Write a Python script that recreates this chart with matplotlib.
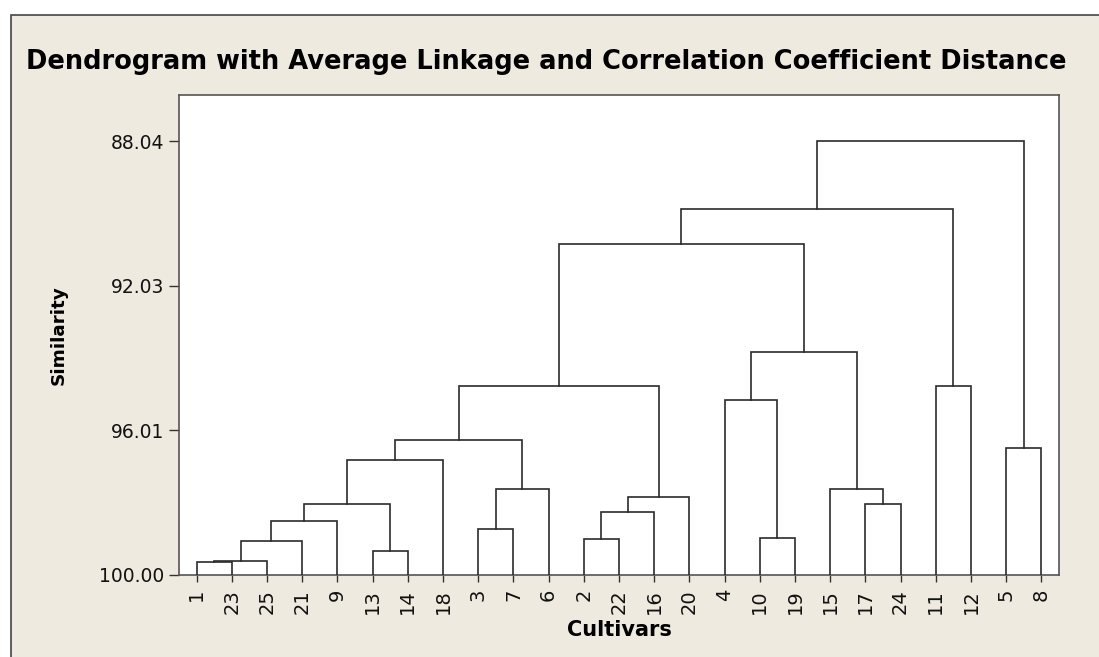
import matplotlib
matplotlib.use("Agg")
import matplotlib.pyplot as plt
from matplotlib.patches import Rectangle

# ---------------------------------------------------------
# DATA: leaf order and merge heights (similarity, %)
# ---------------------------------------------------------

leaf_order = [1, 23, 25, 21, 9, 13, 14, 18, 3, 7, 6, 2, 22, 16, 20,
              4, 10, 19, 15, 17, 24, 11, 12, 5, 8]

# (name, left child, right child, similarity level)
merge_names = ["A", "B", "C", "D", "E", "F", "G", "H", "I", "J", "K", "L",
               "M", "N", "O", "P", "Q", "R", "S", "T", "U", "V", "W", "X"]
merge_left = [1, "A", "B", "C", 13, "D", "F", 3, "H", "G", 2, "K",
              "L", "J", 10, 4, 17, 15, "P", "N", 11, "T", 5, "V"]
merge_right = [23, 25, 21, 9, 14, "E", 18, 7, 6, "I", 22, 16,
               20, "M", 19, "O", 24, "Q", "R", "S", 12, "U", 8, "W"]
merge_level = [99.63, 99.61, 99.06, 98.51, 99.35, 98.04, 96.83, 98.74,
               97.62, 96.29, 99.02, 98.27, 97.85, 94.79, 98.97, 95.19,
               98.04, 97.62, 93.86, 90.89, 94.79, 89.91, 96.49, 88.04]

y_ticks = [88.04, 92.03, 96.01, 100.00]

# ---------------------------------------------------------
# FIGURE
# ---------------------------------------------------------

bg = "#EEEAE0"
line_col = "#2b2b2b"

fig = plt.figure(figsize=(10.99, 6.57), dpi=100, facecolor="white")
frame = Rectangle((11 / 1099, -0.1), 1.2, 1.1 - 15 / 657,
                  transform=fig.transFigure, facecolor=bg,
                  edgecolor="#444444", linewidth=1.2, zorder=-10)
fig.add_artist(frame)

ax = fig.add_axes([179 / 1099, 1 - 575 / 657, 880 / 1099, 480 / 657])
ax.set_facecolor("white")
ax.set_zorder(5)

# positions of nodes: leaves first, then merges at the mid point of children
pos_x = {leaf: i + 1 for i, leaf in enumerate(leaf_order)}
pos_y = {leaf: 100.0 for leaf in leaf_order}

for name, a, b, h in zip(merge_names, merge_left, merge_right, merge_level):
    xa, xb = pos_x[a], pos_x[b]
    ya, yb = pos_y[a], pos_y[b]
    ax.plot([xa, xa, xb, xb], [ya, h, h, yb], color=line_col, lw=1.2,
            solid_joinstyle="miter", zorder=3)
    pos_x[name] = (xa + xb) / 2
    pos_y[name] = h

ax.set_xlim(0.5, 25.5)
ax.set_ylim(100, 86.77)

ax.set_xticks(range(1, len(leaf_order) + 1))
ax.set_xticklabels([str(v) for v in leaf_order], rotation=90)
ax.set_yticks(y_ticks)
ax.set_yticklabels([f"{v:.2f}" for v in y_ticks])

ax.tick_params(axis="x", length=5, width=1, color="#333333",
               labelsize=14, pad=5, direction="out")
ax.tick_params(axis="y", length=7, width=1, color="#333333",
               labelsize=13.5, pad=3.5, direction="out")
for lbl in ax.get_xticklabels() + ax.get_yticklabels():
    lbl.set_color("#111111")

for sp in ax.spines.values():
    sp.set_color("#555555")
    sp.set_linewidth(1.2)

ax.set_xlabel("Cultivars", fontsize=15, fontweight="bold")
ax.xaxis.set_label_coords(0.5, -0.094)
ax.set_ylabel("Similarity", fontsize=13.2, fontweight="bold")
ax.yaxis.set_label_coords(-0.127, 0.5)

fig.text(0.497, 1 - 62 / 657,
         "Dendrogram with Average Linkage and Correlation Coefficient Distance",
         ha="center", va="center", fontsize=18.5, fontweight="bold")

fig.savefig("out.png", dpi=100, facecolor=fig.get_facecolor())
